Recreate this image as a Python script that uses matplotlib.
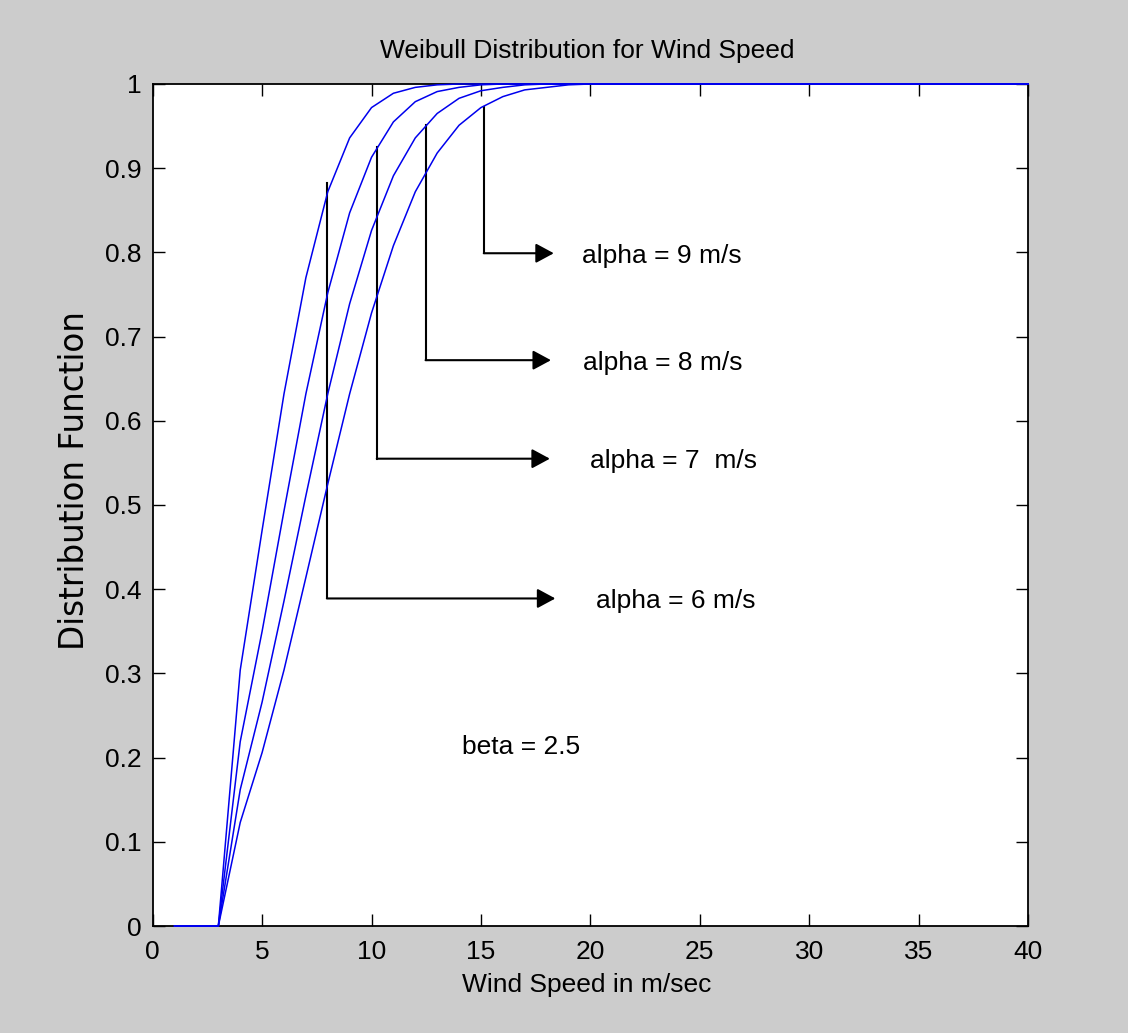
import matplotlib
matplotlib.use("Agg")
import matplotlib.pyplot as plt

# ---------------- data ----------------
wind_speed = list(range(1, 41))

cdf_alpha6 = [0, 0, 0,
              0.304, 0.470, 0.632, 0.770, 0.872, 0.936, 0.972, 0.989, 0.996, 0.999,
              1, 1, 1, 1, 1, 1, 1, 1, 1, 1, 1, 1, 1, 1, 1, 1, 1, 1, 1, 1, 1, 1, 1, 1, 1]
cdf_alpha7 = [0, 0, 0,
              0.219, 0.350, 0.493, 0.632, 0.752, 0.847, 0.913, 0.955, 0.979, 0.991, 0.996, 0.999,
              1, 1, 1, 1, 1, 1, 1, 1, 1, 1, 1, 1, 1, 1, 1, 1, 1, 1, 1, 1, 1, 1]
cdf_alpha8 = [0, 0, 0,
              0.162, 0.266, 0.386, 0.511, 0.632, 0.739, 0.826, 0.891, 0.936, 0.965, 0.983,
              0.992, 0.996, 0.999,
              1, 1, 1, 1, 1, 1, 1, 1, 1, 1, 1, 1, 1, 1, 1, 1, 1, 1, 1, 1]
cdf_alpha9 = [0, 0, 0,
              0.123, 0.206, 0.304, 0.414, 0.525, 0.632, 0.728, 0.808, 0.872, 0.918, 0.951,
              0.972, 0.985, 0.993, 0.996, 0.999,
              1, 1, 1, 1, 1, 1, 1, 1, 1, 1, 1, 1, 1, 1, 1, 1, 1, 1, 1, 1]

series = [cdf_alpha6, cdf_alpha7, cdf_alpha8, cdf_alpha9]
for s in series:
    while len(s) < len(wind_speed):
        s.append(1)
    del s[len(wind_speed):]

# annotation pointers
annot_x = [7.96, 10.24, 12.47, 15.13]
annot_top = [0.882, 0.925, 0.951, 0.973]
annot_y = [0.389, 0.555, 0.672, 0.799]
arrow_tip = [18.4, 18.15, 18.2, 18.33]
label_x = [20.24, 19.98, 19.68, 19.6]
labels = ["alpha = 6 m/s", "alpha = 7  m/s", "alpha = 8 m/s", "alpha = 9 m/s"]

x_ticks = [0, 5, 10, 15, 20, 25, 30, 35, 40]
y_ticks = [0, 0.1, 0.2, 0.3, 0.4, 0.5, 0.6, 0.7, 0.8, 0.9, 1]
y_tick_labels = ["0", "0.1", "0.2", "0.3", "0.4", "0.5", "0.6", "0.7", "0.8", "0.9", "1"]

# ---------------- style ----------------
plt.rcParams["font.family"] = ["Liberation Sans", "DejaVu Sans"]
FS = 19

W, H = 1128, 1033
X0, X1, Y0, Y1 = 152.7, 1028.0, 926.0, 84.0   # axes box in pixels

fig = plt.figure(figsize=(W / 100, H / 100), dpi=100, facecolor="#cccccc")
ax = fig.add_axes([X0 / W, 1 - Y0 / H, (X1 - X0) / W, (Y0 - Y1) / H])
ax.set_facecolor("white")

for s in series:
    ax.plot(wind_speed, s, color="#0000ee", lw=1.1, clip_on=False, zorder=4)

for x, top, y, tip, lx, lab in zip(annot_x, annot_top, annot_y, arrow_tip, label_x, labels):
    ax.plot([x, x], [top, y], color="black", lw=1.5, zorder=3)
    ax.annotate("", xy=(tip, y), xytext=(x, y),
                arrowprops=dict(arrowstyle="-|>,head_length=0.5,head_width=0.27",
                                color="black", lw=1.5, mutation_scale=22,
                                shrinkA=0, shrinkB=0), zorder=3)
    ax.text(lx, y - 0.003, lab, ha="left", va="center", fontsize=FS, color="black")

ax.text(14.14, 0.213, "beta = 2.5", ha="left", va="center", fontsize=FS, color="black")

ax.set_xlim(0, 40)
ax.set_ylim(0, 1)
ax.set_xticks(x_ticks)
ax.set_xticklabels([str(t) for t in x_ticks])
ax.set_yticks(y_ticks)
ax.set_yticklabels(y_tick_labels)

ax.tick_params(axis="both", which="both", direction="in", length=8.5, width=1.0,
               top=True, right=True, labelsize=FS, colors="black")
ax.tick_params(axis="x", pad=10)
ax.tick_params(axis="y", pad=8)
for sp in ax.spines.values():
    sp.set_linewidth(1.3)
    sp.set_color("black")

# title: baseline at ~58 px from top, centred at ~587 px
ax.set_title("Weibull Distribution for Wind Speed", fontsize=FS, pad=0,
             y=(Y0 - 58) / (Y0 - Y1), va="baseline")
ax.title.set_x((587 - X0) / (X1 - X0))

ax.set_xlabel("Wind Speed in m/sec", fontsize=FS, va="baseline")
ax.xaxis.set_label_coords((586.5 - X0) / (X1 - X0), -(992 - Y0) / (Y0 - Y1))

ax.set_ylabel("Distribution Function", fontsize=23.5, va="center",
              family=["DejaVu Sans"])
ax.yaxis.set_label_coords((75 - X0) / (X1 - X0), (Y0 - 481) / (Y0 - Y1))

fig.savefig("out.png", dpi=100, facecolor=fig.get_facecolor())
